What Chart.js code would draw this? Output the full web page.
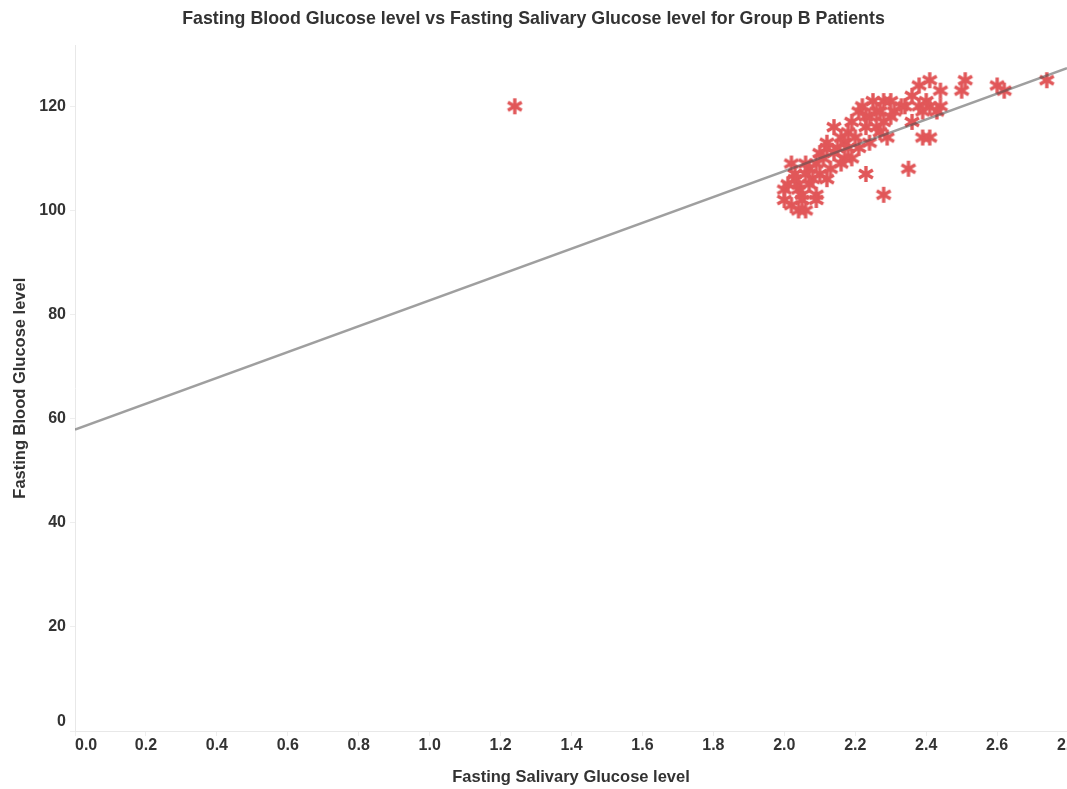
<!DOCTYPE html>
<html>
<head>
<meta charset="utf-8">
<script src="https://cdn.jsdelivr.net/npm/chart.js@4.4.1/dist/chart.umd.min.js"></script>
<style>
  html, body { margin: 0; padding: 0; background: #fff; overflow: hidden; }
  #wrap { width: 1067px; height: 789px; }
</style>
</head>
<body>
<div id="wrap"><canvas id="glucoseChart"></canvas></div>
<script>
// salivary (x) and blood (y) glucose for each patient
const salivary = [1.24, 2.74, 2.60, 2.62, 2.51, 2.50, 2.41, 2.38, 2.44, 2.40,
  2.41, 2.38, 2.39, 2.36, 2.39, 2.41, 2.35, 2.28, 2.23, 2.29,
  2.33, 2.31, 2.28, 2.27, 2.24, 2.26, 2.23, 2.21, 2.19, 2.14,
  2.18, 2.20, 2.17, 2.15, 2.12, 2.10, 2.18, 2.21, 2.17, 2.19,
  2.16, 2.14, 2.11, 2.09, 2.07, 2.02, 2.10, 2.08, 2.06, 2.12,
  2.04, 2.07, 2.04, 2.00, 2.00, 2.02, 2.04, 2.06, 2.05, 2.09,
  2.03, 2.13, 2.24, 2.27, 2.30, 2.34, 2.25, 2.22, 2.26, 2.28,
  2.44, 2.43, 2.01, 2.09, 2.12, 2.16, 2.06, 2.23, 2.30, 2.36,
  2.03, 2.05];
const blood = [120, 125, 124, 123, 125, 123, 125, 124, 123, 121,
  120, 120, 119, 117, 114, 114, 108, 103, 107, 114,
  120, 119, 121, 119, 118, 116, 116, 119, 117, 116,
  115, 114, 113, 112, 112, 111, 112, 112, 110, 110,
  109, 111, 110, 109, 108, 109, 107, 106, 107, 106,
  105, 105, 104, 104, 102, 101, 100, 100, 102, 103,
  106, 108, 113, 115, 118, 120, 121, 120, 119, 117,
  120, 119, 105, 102, 113, 114, 109, 118, 121, 122,
  107, 103];

// trend line end points
const trendX = [0, 2.797];
const trendY = [57.9, 127.3];

const xTicks = [0, 0.2, 0.4, 0.6, 0.8, 1.0, 1.2, 1.4, 1.6, 1.8, 2.0, 2.2, 2.4, 2.6, 2.8];
const yTicks = [0, 20, 40, 60, 80, 100, 120];

const red = '#e15759';

// 6 armed asterisk marker
function asterisk(size, color) {
  const c = document.createElement('canvas');
  c.width = size; c.height = size;
  const g = c.getContext('2d');
  const r = size / 2 - 1;
  g.strokeStyle = color;
  g.lineWidth = 3.4;
  g.translate(size / 2, size / 2);
  for (let i = 0; i < 3; i++) {
    const a = Math.PI / 2 + i * Math.PI / 3;
    g.beginPath();
    g.moveTo(Math.cos(a) * r, Math.sin(a) * r);
    g.lineTo(-Math.cos(a) * r, -Math.sin(a) * r);
    g.stroke();
  }
  return c;
}

Chart.defaults.font.family = '"Liberation Sans", Arial, sans-serif';
Chart.defaults.color = '#333';

const points = salivary.map((v, i) => ({ x: v, y: blood[i] }));
const trend = trendX.map((v, i) => ({ x: v, y: trendY[i] }));

new Chart(document.getElementById('glucoseChart'), {
    type: 'scatter',
    data: {
        datasets: [{
            label: 'Trend',
            data: trend,
            showLine: true,
            borderColor: 'rgba(80, 80, 80, 0.55)',
            borderWidth: 2.5,
            pointRadius: 0
        }, {
            label: 'Patients',
            data: points,
            pointStyle: asterisk(18, red),
            pointRadius: 9,
            backgroundColor: red,
            borderColor: red
        }]
    },
    options: {
        responsive: true,
        maintainAspectRatio: false,
        animation: false,
        events: [],
        layout: { padding: 0, autoPadding: false },
        plugins: {
            legend: { display: false },
            tooltip: { enabled: false },
            title: {
                display: true,
                text: 'Fasting Blood Glucose level vs Fasting Salivary Glucose level for Group B Patients',
                font: { size: 17.8, weight: 'bold' },
                color: '#333',
                padding: { top: 8, bottom: 16 }
            }
        },
        scales: {
            x: {
                type: 'linear',
                min: 0,
                max: 2.797,
                afterBuildTicks: s => {
                    s.ticks = xTicks.map(v => ({ value: v })).concat([{ value: s.max }]);
                },
                afterFit: s => { s.height = 58; },
                grid: { display: true, drawOnChartArea: false, tickLength: 5, tickColor: '#eeeeee' },
                border: { color: '#e8e8e8' },
                ticks: {
                    autoSkip: false,
                    maxRotation: 0,
                    align: 'inner',
                    padding: 0,
                    font: { size: 16, weight: 'bold' },
                    callback: v => xTicks.includes(v) ? v.toFixed(1) : ''
                },
                title: {
                    display: true,
                    text: 'Fasting Salivary Glucose level',
                    font: { size: 16.5, weight: 'bold' },
                    padding: { top: 0, bottom: 2 }
                }
            },
            y: {
                min: 0,
                max: 131.7,
                afterBuildTicks: s => {
                    s.ticks = yTicks.map(v => ({ value: v }));
                },
                afterFit: s => { s.width = 75; },
                grid: { display: true, drawOnChartArea: false, tickLength: 5, tickColor: '#eeeeee' },
                border: { color: '#e8e8e8' },
                ticks: {
                    autoSkip: false,
                    padding: 4,
                    font: { size: 16, weight: 'bold' },
                    callback: v => v === 0 ? ['0', ''] : String(v)
                },
                title: {
                    display: true,
                    text: 'Fasting Blood Glucose level',
                    font: { size: 16.5, weight: 'bold' },
                    padding: { top: 11, bottom: 0 }
                }
            }
        }
    }
});
</script>
</body>
</html>
